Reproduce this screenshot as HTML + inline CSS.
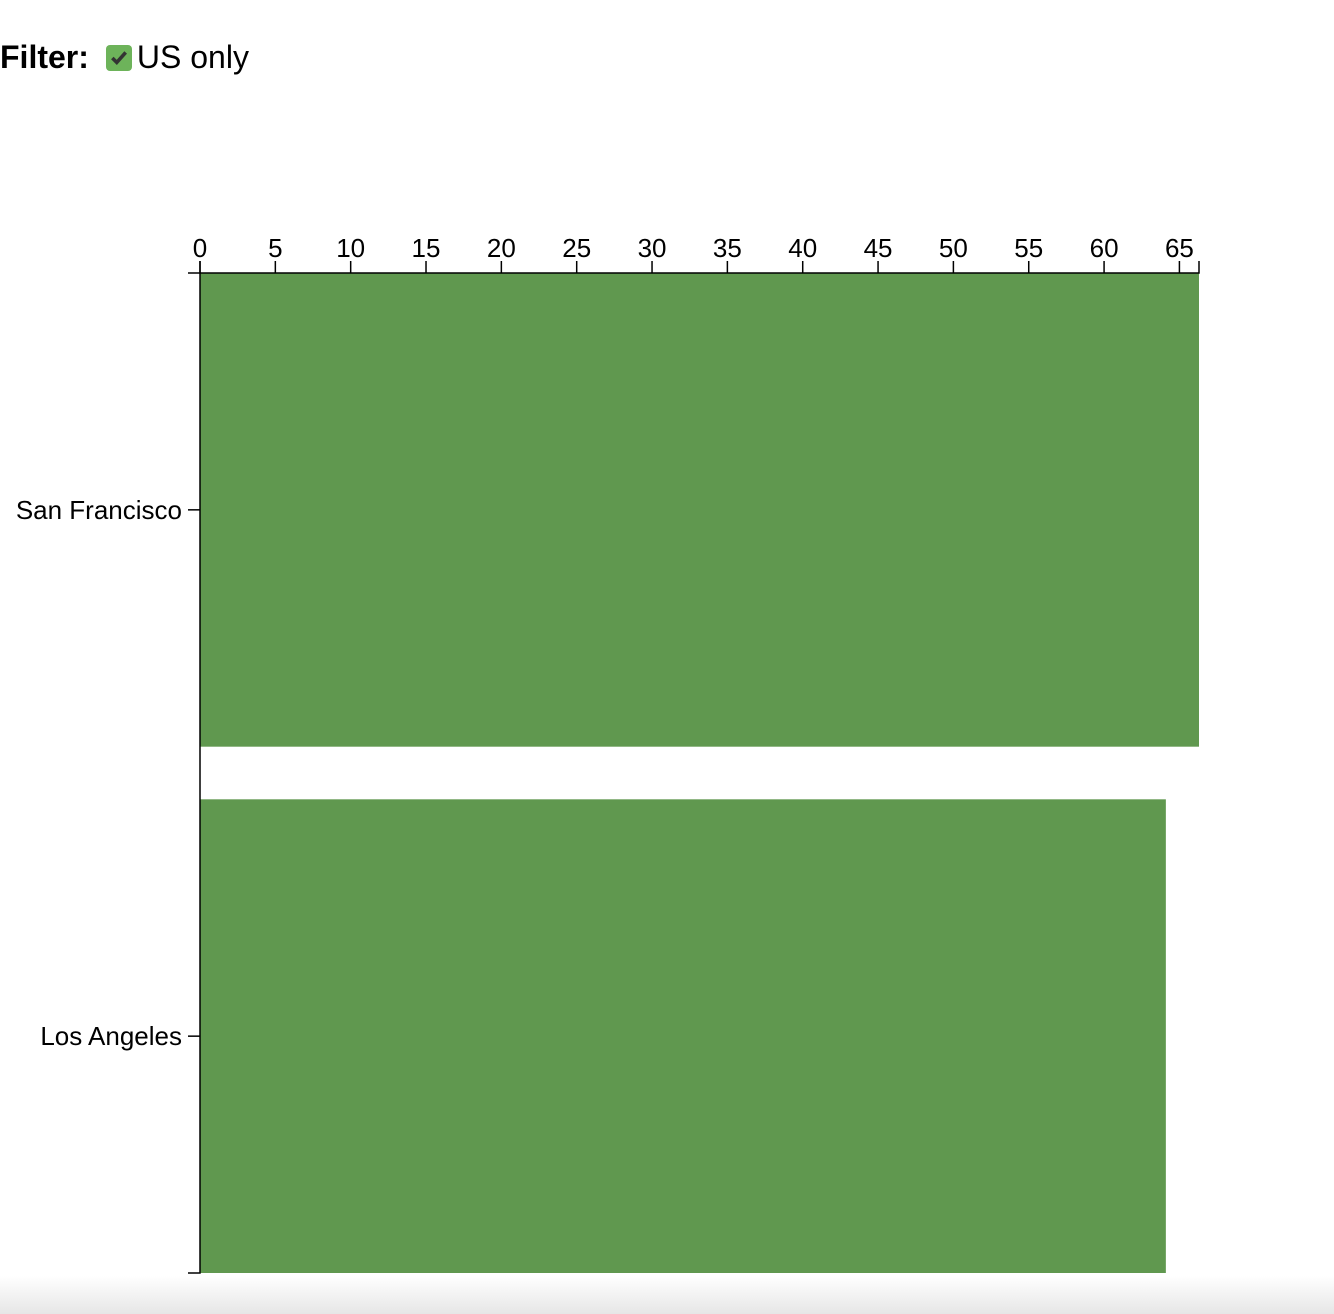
<!DOCTYPE html>
<html><head><meta charset="utf-8">
<style>
html,body{margin:0;padding:0;background:#fff;width:1334px;height:1314px;overflow:hidden;font-family:"Liberation Sans",Arial,sans-serif;}
#filter{position:absolute;left:0;top:39px;font-size:32px;display:flex;align-items:center;}
#filter b{font-weight:bold;margin-right:17px;}
#cb{width:26px;height:26px;background:#6db35a;border-radius:4px;display:inline-block;position:relative;margin-right:5px;}
#cb svg{position:absolute;left:3px;top:3px;}
#shade{position:absolute;left:0;top:1276px;width:1334px;height:38px;background:linear-gradient(to bottom,#fff,#e6e6e6);}
</style></head><body>
<div id="filter"><b>Filter:</b><span id="cb"><svg width="20" height="20" viewBox="0 0 18 18"><path d="M3 9 L7 13 L15 4" stroke="#333" stroke-width="3.2" fill="none"/></svg></span><span>US only</span></div>
<div id="shade"></div>
<svg id="chart" width="1334" height="1314" style="position:absolute;left:0;top:0"></svg>
<script>
const categories = ["San Francisco", "Los Angeles"];
const values = [66.3, 64.1];
const xTicks = [0,5,10,15,20,25,30,35,40,45,50,55,60,65];
const NS="http://www.w3.org/2000/svg";
const svg=document.getElementById('chart');
const x0=200,x1=1199,y0=273,y1=1273;
const xMax=Math.max(...values);
const xs=v=>x0+(v/xMax)*(x1-x0);
const step=(y1-y0)/(categories.length-0.1);
const bw=step*0.9;
const ys=i=>y0+i*step;
function mk(t,a){const e=document.createElementNS(NS,t);for(const k in a)e.setAttribute(k,a[k]);svg.appendChild(e);return e;}
categories.forEach((c,i)=>{
  const r=mk('rect',{x:x0,y:ys(i),width:xs(values[i])-x0,height:bw,fill:'#60984f'});
  
  
  const cy=ys(i)+bw/2;
  const tk=mk('line',{x1:188,x2:x0,y1:cy,y2:cy,stroke:'#000','stroke-width':1.5});
  
  
  const t=mk('text',{x:182,y:cy+9,'text-anchor':'end','font-size':26,fill:'#000'});
  t.textContent=c;
  
  
});
const xa=mk('path',{d:`M${x0},${y0-12}V${y0}H${x1}V${y0-12}`,stroke:'#000','stroke-width':1.5,fill:'none'});


const ya=mk('path',{d:`M188,${y0}H${x0}V${y1}H188`,stroke:'#000','stroke-width':1.5,fill:'none'});


xTicks.forEach(v=>{
  const x=xs(v);
  const l=mk('line',{x1:x,x2:x,y1:y0-12,y2:y0,stroke:'#000','stroke-width':1.5});
  
  
  const t=mk('text',{x:x,y:257,'text-anchor':'middle','font-size':26,fill:'#000'});
  t.textContent=v;
  
  
});
</script>
</body></html>
